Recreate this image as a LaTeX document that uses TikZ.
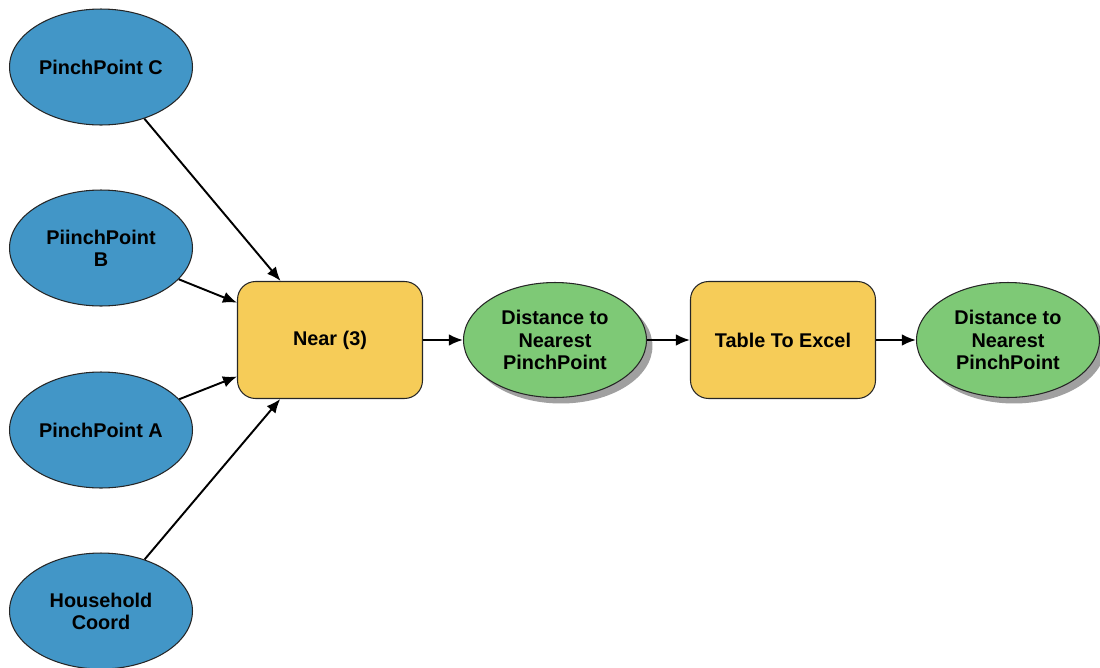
\documentclass[tikz,border=0pt]{standalone}
\usepackage{fontspec}
\setmainfont{Liberation Sans}
\usetikzlibrary{shapes.geometric,arrows.meta,shadows}
\definecolor{inblue}{RGB}{66,150,199}
\definecolor{toolyellow}{RGB}{246,204,88}
\definecolor{outgreen}{RGB}{126,201,118}
\definecolor{shadowgray}{RGB}{160,160,160}
\tikzset{
  inputnode/.style={ellipse, draw=black!85, line width=0.6pt, fill=inblue,
    minimum width=3.66cm, minimum height=2.32cm, inner sep=0pt, align=center,
    font=\fontsize{11.3pt}{12.6pt}\selectfont\bfseries},
  toolnode/.style={rectangle, rounded corners=0.36cm, draw=black!85, line width=0.6pt, fill=toolyellow,
    minimum width=3.7cm, minimum height=2.34cm, inner sep=0pt, align=center,
    font=\fontsize{11.3pt}{12.6pt}\selectfont\bfseries},
  outnode/.style={ellipse, draw=black!85, line width=0.6pt, fill=outgreen,
    minimum width=3.66cm, minimum height=2.3cm, inner sep=0pt, align=center,
    font=\fontsize{11.3pt}{12.6pt}\selectfont\bfseries,
    drop shadow={shadow xshift=0.12cm, shadow yshift=-0.12cm, fill=shadowgray, opacity=1}},
  flow/.style={line width=1.1pt, -{Latex[length=2.8mm,width=2.3mm]}}
}
\begin{document}
\begin{tikzpicture}[x=0.02cm,y=-0.02cm]
\useasboundingbox (0,0) rectangle (1100,667);
\node[inputnode] (c) at (101,67) {PinchPoint C};
\node[inputnode] (b) at (101,248) {PiinchPoint\\B};
\node[inputnode] (a) at (101,430) {PinchPoint A};
\node[inputnode] (h) at (101,611) {Household\\Coord};
\node[toolnode] (near) at (330,340) {Near (3)};
\node[outnode] (d1) at (555,340) {Distance to\\Nearest\\PinchPoint};
\node[toolnode] (tte) at (783,340) {Table To Excel};
\node[outnode] (d2) at (1008,340) {Distance to\\Nearest\\PinchPoint};
\draw[flow] (c) -- (near);
\draw[flow] (b) -- (near);
\draw[flow] (a) -- (near);
\draw[flow] (h) -- (near);
\draw[flow] (near) -- (d1);
\draw[flow] (d1) -- (tte);
\draw[flow] (tte) -- (d2);
\end{tikzpicture}
\end{document}
